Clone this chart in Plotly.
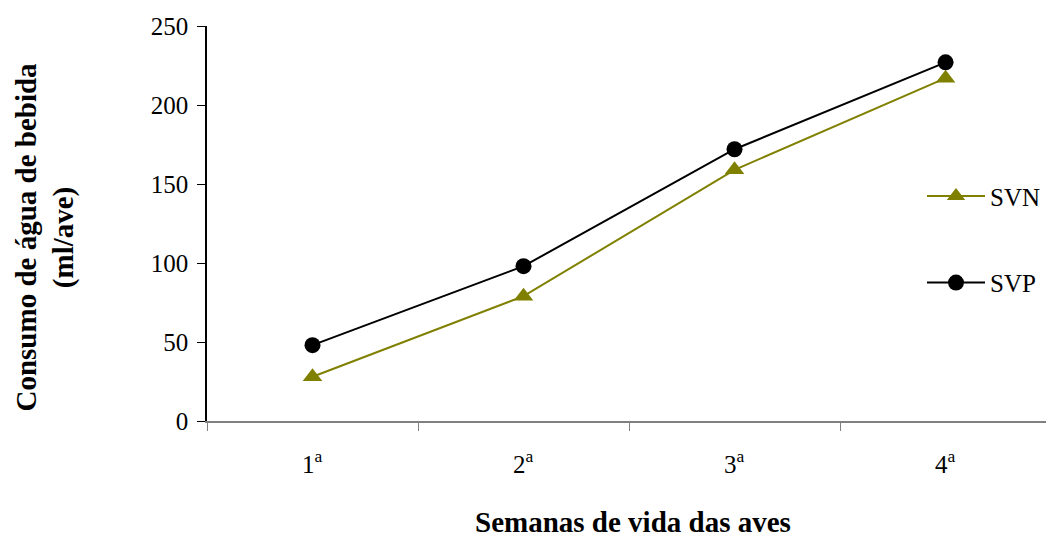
import plotly.graph_objects as go

# Weekly drinking-water intake per bird
semanas = ["1<sup>a</sup>", "2<sup>a</sup>", "3<sup>a</sup>", "4<sup>a</sup>"]
svn = [28, 79, 159, 217]
svp = [48, 98, 172, 227]
y_ticks = [0, 50, 100, 150, 200, 250]

pos = list(range(len(semanas)))
serif = "Liberation Serif, Times New Roman, serif"

fig = go.Figure()
fig.add_trace(go.Scatter(
    x=pos, y=svn, name="SVN", mode="lines+markers", legendgroup="a",
    line=dict(color="#808000", width=2),
    marker=dict(symbol="triangle-up", size=17, color="#808000"),
))
fig.add_trace(go.Scatter(
    x=pos, y=svp, name="SVP", mode="lines+markers", legendgroup="b",
    line=dict(color="#000000", width=2),
    marker=dict(symbol="circle", size=16, color="#000000"),
))

# category labels centred between the boundary ticks
for p, lab in zip(pos, semanas):
    fig.add_annotation(x=p, y=0, xref="x", yref="paper", yshift=-41,
                       text=lab, showarrow=False, yanchor="middle",
                       font=dict(family=serif, size=25, color="black"))

fig.add_annotation(x=0.5, xref="paper", xshift=6, y=0, yref="paper",
                   yshift=-101,
                   text="<b>Semanas de vida das aves</b>", showarrow=False,
                   yanchor="middle",
                   font=dict(family=serif, size=29, color="black"))
fig.add_annotation(x=0, xref="paper", xshift=-162, y=0.5, yref="paper",
                   yshift=-14,
                   text="<b>Consumo de água de bebida<br>(ml/ave)</b>",
                   showarrow=False, textangle=-90, xanchor="center",
                   font=dict(family=serif, size=29, color="black"))

fig.update_layout(
    width=1046, height=540,
    margin=dict(l=207, r=0, t=26, b=119),
    paper_bgcolor="white", plot_bgcolor="white",
    font=dict(family=serif, size=25, color="black"),
    showlegend=True,
    legend=dict(x=1, y=0.627, xanchor="right", yanchor="top",
                tracegroupgap=51, itemwidth=58, bgcolor="rgba(0,0,0,0)",
                font=dict(family=serif, size=25, color="black")),
    xaxis=dict(range=[-0.5, 3.476], tickvals=[-0.5, 0.5, 1.5, 2.5],
               ticktext=["", "", "", ""], ticks="outside", ticklen=8,
               tickcolor="#808080", showline=True, linecolor="#808080",
               linewidth=2, showgrid=False, zeroline=False),
    yaxis=dict(range=[0, 250], tickvals=y_ticks, ticks="outside",
               ticklen=8, tickcolor="black", showline=True,
               linecolor="black", linewidth=1.5, showgrid=False,
               zeroline=False, ticklabelstandoff=4),
)

fig.write_html("out.html")
